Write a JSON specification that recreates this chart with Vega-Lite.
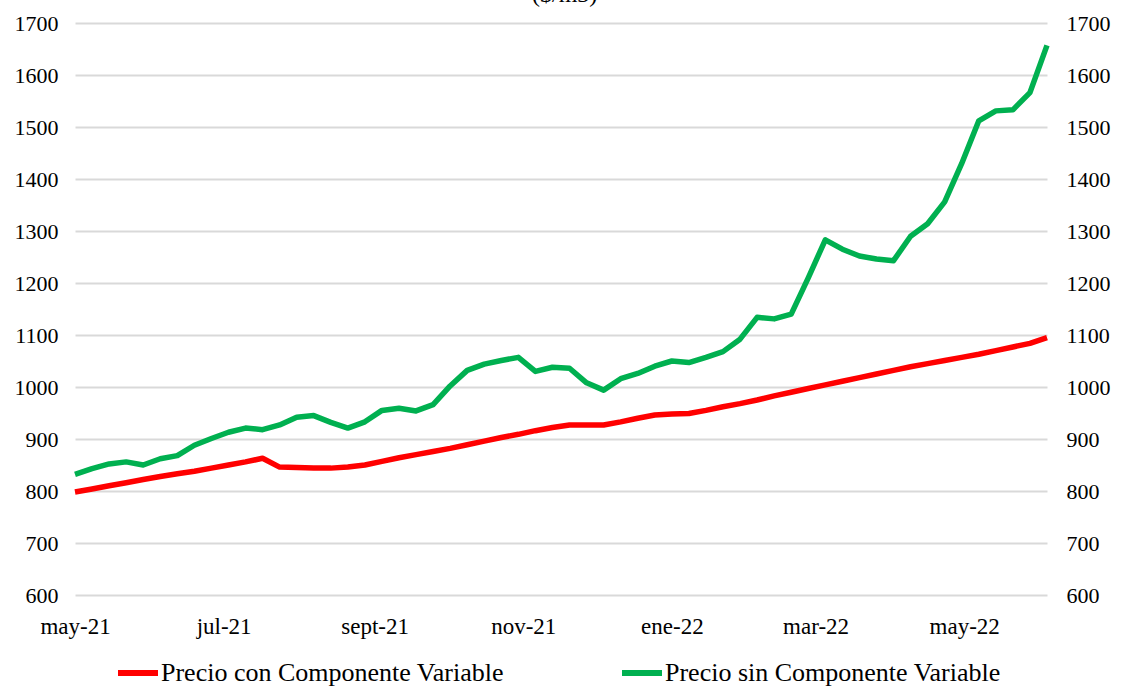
{
  "$schema": "https://vega.github.io/schema/vega-lite/v6.json",
  "width": 972,
  "height": 572,
  "autosize": "none",
  "padding": {"left": 75, "top": 23, "right": 82, "bottom": 96},
  "background": "white",
  "config": {
    "view": {"stroke": null},
    "font": "Liberation Serif",
    "axis": {
      "labelFont": "Liberation Serif",
      "labelFontSize": 22,
      "labelColor": "black",
      "domain": false,
      "ticks": false,
      "title": null,
      "gridColor": "#d9d9d9",
      "gridWidth": 2
    },
    "legend": {
      "orient": "none",
      "legendX": 40,
      "legendY": 627,
      "direction": "horizontal",
      "symbolType": "stroke",
      "symbolStrokeWidth": 6,
      "symbolSize": 1600,
      "labelFont": "Liberation Serif",
      "labelFontSize": 26,
      "labelColor": "black",
      "labelLimit": 0,
      "labelOffset": 0,
      "columnPadding": 106,
      "padding": 0,
      "title": null
    }
  },
  "data": {
    "values": [
      {"fecha": "2021-05-01", "con": 798, "sin": 832},
      {"fecha": "2021-05-08", "con": 804, "sin": 843},
      {"fecha": "2021-05-15", "con": 810, "sin": 852},
      {"fecha": "2021-05-22", "con": 816, "sin": 856},
      {"fecha": "2021-05-29", "con": 822, "sin": 850},
      {"fecha": "2021-06-05", "con": 828, "sin": 862},
      {"fecha": "2021-06-12", "con": 833, "sin": 868},
      {"fecha": "2021-06-19", "con": 838, "sin": 888},
      {"fecha": "2021-06-26", "con": 844, "sin": 901},
      {"fecha": "2021-07-03", "con": 850, "sin": 913},
      {"fecha": "2021-07-10", "con": 856, "sin": 921},
      {"fecha": "2021-07-17", "con": 863, "sin": 918},
      {"fecha": "2021-07-24", "con": 846, "sin": 927},
      {"fecha": "2021-07-31", "con": 845, "sin": 942},
      {"fecha": "2021-08-07", "con": 844, "sin": 945},
      {"fecha": "2021-08-14", "con": 844, "sin": 932},
      {"fecha": "2021-08-21", "con": 846, "sin": 921},
      {"fecha": "2021-08-28", "con": 850, "sin": 933},
      {"fecha": "2021-09-04", "con": 857, "sin": 955},
      {"fecha": "2021-09-11", "con": 864, "sin": 959},
      {"fecha": "2021-09-18", "con": 870, "sin": 954},
      {"fecha": "2021-09-25", "con": 876, "sin": 966},
      {"fecha": "2021-10-02", "con": 882, "sin": 1002},
      {"fecha": "2021-10-09", "con": 889, "sin": 1032},
      {"fecha": "2021-10-16", "con": 896, "sin": 1044},
      {"fecha": "2021-10-23", "con": 903, "sin": 1051},
      {"fecha": "2021-10-30", "con": 909, "sin": 1057},
      {"fecha": "2021-11-06", "con": 916, "sin": 1030},
      {"fecha": "2021-11-13", "con": 922, "sin": 1038},
      {"fecha": "2021-11-20", "con": 927, "sin": 1036},
      {"fecha": "2021-11-27", "con": 927, "sin": 1008},
      {"fecha": "2021-12-04", "con": 927, "sin": 994},
      {"fecha": "2021-12-11", "con": 933, "sin": 1016},
      {"fecha": "2021-12-18", "con": 940, "sin": 1026},
      {"fecha": "2021-12-25", "con": 946, "sin": 1040},
      {"fecha": "2022-01-01", "con": 948, "sin": 1050},
      {"fecha": "2022-01-08", "con": 949, "sin": 1047},
      {"fecha": "2022-01-15", "con": 955, "sin": 1057},
      {"fecha": "2022-01-22", "con": 962, "sin": 1068},
      {"fecha": "2022-01-29", "con": 968, "sin": 1092},
      {"fecha": "2022-02-05", "con": 975, "sin": 1134},
      {"fecha": "2022-02-12", "con": 983, "sin": 1131},
      {"fecha": "2022-02-19", "con": 990, "sin": 1140},
      {"fecha": "2022-02-26", "con": 997, "sin": 1210},
      {"fecha": "2022-03-05", "con": 1004, "sin": 1283},
      {"fecha": "2022-03-12", "con": 1011, "sin": 1265},
      {"fecha": "2022-03-19", "con": 1018, "sin": 1252},
      {"fecha": "2022-03-26", "con": 1025, "sin": 1246},
      {"fecha": "2022-04-02", "con": 1032, "sin": 1243},
      {"fecha": "2022-04-09", "con": 1039, "sin": 1290},
      {"fecha": "2022-04-16", "con": 1045, "sin": 1314},
      {"fecha": "2022-04-23", "con": 1051, "sin": 1356},
      {"fecha": "2022-04-30", "con": 1057, "sin": 1430},
      {"fecha": "2022-05-07", "con": 1063, "sin": 1512},
      {"fecha": "2022-05-14", "con": 1070, "sin": 1531},
      {"fecha": "2022-05-21", "con": 1077, "sin": 1533},
      {"fecha": "2022-05-28", "con": 1084, "sin": 1566},
      {"fecha": "2022-06-04", "con": 1095, "sin": 1657}
    ]
  },
  "transform": [
    {"fold": ["con", "sin"], "as": ["clave", "valor"]},
    {"lookup": "clave", "from": {"data": {"values": [
      {"clave": "con", "serie": "Precio con Componente Variable"},
      {"clave": "sin", "serie": "Precio sin Componente Variable"}
    ]}, "key": "clave", "fields": ["serie"]}}
  ],
  "layer": [
    {
      "mark": {"type": "line", "strokeWidth": 5.5, "strokeJoin": "round", "strokeCap": "butt"},
      "encoding": {
        "x": {
          "field": "fecha",
          "type": "temporal",
          "scale": {"type": "utc"},
          "axis": {
            "grid": false,
            "values": [
              {"year": 2021, "month": 5, "date": 1, "utc": true},
              {"year": 2021, "month": 7, "date": 1, "utc": true},
              {"year": 2021, "month": 9, "date": 1, "utc": true},
              {"year": 2021, "month": 11, "date": 1, "utc": true},
              {"year": 2022, "month": 1, "date": 1, "utc": true},
              {"year": 2022, "month": 3, "date": 1, "utc": true},
              {"year": 2022, "month": 5, "date": 1, "utc": true}
            ],
            "labelExpr": "['ene','feb','mar','abr','may','jun','jul','ago','sept','oct','nov','dic'][utcmonth(datum.value)] + '-' + utcFormat(datum.value, '%y')",
            "labelFlush": false,
            "labelOverlap": false,
            "labelFontSize": 23,
            "labelPadding": 20,
            "labelAlign": "center"
          }
        },
        "y": {
          "field": "valor",
          "type": "quantitative",
          "scale": {"domain": [600, 1700], "nice": false, "zero": false},
          "axis": {
            "orient": "left",
            "grid": true,
            "format": "d",
            "values": [600, 700, 800, 900, 1000, 1100, 1200, 1300, 1400, 1500, 1600, 1700],
            "labelPadding": 17
          }
        },
        "color": {
          "field": "serie",
          "type": "nominal",
          "scale": {
            "domain": ["Precio con Componente Variable", "Precio sin Componente Variable"],
            "range": ["#ff0000", "#00b050"]
          }
        }
      }
    },
    {
      "mark": {"type": "line", "strokeOpacity": 0},
      "encoding": {
        "x": {"field": "fecha", "type": "temporal", "scale": {"type": "utc"}},
        "y": {
          "field": "valor",
          "type": "quantitative",
          "scale": {"domain": [600, 1700], "nice": false, "zero": false},
          "axis": {
            "orient": "right",
            "grid": false,
            "format": "d",
            "values": [600, 700, 800, 900, 1000, 1100, 1200, 1300, 1400, 1500, 1600, 1700],
            "labelPadding": 19
          }
        },
        "detail": {"field": "serie", "type": "nominal"}
      }
    },
    {
      "data": {"values": [{"titulo": "($/m3)"}]},
      "mark": {"type": "text", "font": "Liberation Serif", "fontSize": 24, "color": "black", "align": "center", "baseline": "alphabetic", "clip": false},
      "encoding": {
        "text": {"field": "titulo", "type": "nominal"},
        "x": {"datum": {"year": 2021, "month": 11, "date": 18, "utc": true}, "type": "temporal", "scale": {"type": "utc"}},
        "y": {"datum": 1741, "type": "quantitative", "scale": {"domain": [600, 1700], "nice": false, "zero": false}, "axis": null}
      }
    }
  ],
  "resolve": {"scale": {"y": "independent"}}
}
